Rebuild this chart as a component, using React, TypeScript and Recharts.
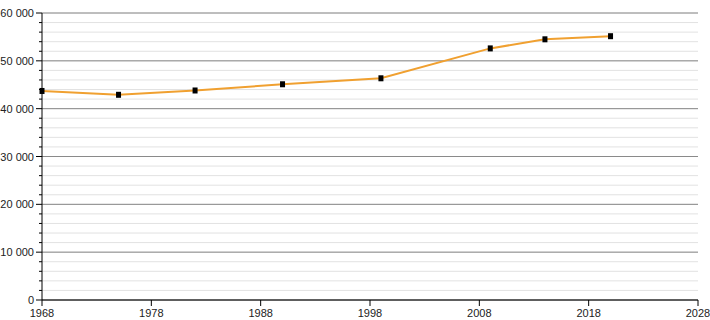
import React from 'react';
import { LineChart, Line, XAxis, YAxis, CartesianGrid, ReferenceLine } from 'recharts';

const years = [1968, 1975, 1982, 1990, 1999, 2009, 2014, 2020];
const population = [43700, 42900, 43800, 45100, 46350, 52600, 54500, 55150];
const xTicks = [1968, 1978, 1988, 1998, 2008, 2018, 2028];
const yTicks = [0, 2000, 4000, 6000, 8000, 10000, 12000, 14000, 16000, 18000, 20000, 22000, 24000, 26000, 28000, 30000, 32000, 34000, 36000, 38000, 40000, 42000, 44000, 46000, 48000, 50000, 52000, 54000, 56000, 58000, 60000];
const majorTicks = [0, 10000, 20000, 30000, 40000, 50000, 60000];

const data = years.map((y, i) => ({ year: y, pop: population[i] }));

const fmt = (v: number) => String(v).replace(/\B(?=(\d{3})+(?!\d))/g, ' ');

const FONT = '"Liberation Sans", Arial, sans-serif';

const YTick = (props: any) => {
  const { x, y, payload } = props;
  const major = payload.value % 10000 === 0;
  const axisX = x + 8;
  return (
    <g>
      <line x1={axisX - (major ? 6 : 3)} x2={axisX} y1={y} y2={y} stroke="#000" strokeWidth={1} />
      {major && (
        <text x={x} y={y} dy={4} textAnchor="end" fontSize={11} fill="#222" fontFamily={FONT}>
          {fmt(payload.value)}
        </text>
      )}
    </g>
  );
};

const XTick = (props: any) => {
  const { x, y, payload } = props;
  return (
    <text x={x} y={y} dy={9} textAnchor="middle" fontSize={11} fill="#222" fontFamily={FONT}>
      {payload.value}
    </text>
  );
};

const Dot = (props: any) => {
  const { cx, cy } = props;
  if (cx == null || cy == null) return null;
  return <rect x={cx - 2.5} y={cy - 3} width={5} height={6} fill="#000" />;
};

export default function App() {
  return (
    <div style={{ position: 'absolute', left: 0, top: 0, width: 710, height: 320, background: '#fff' }}>
      <LineChart width={710} height={320} data={data} margin={{ top: 13, right: 12, bottom: 0, left: 0 }}>
        <CartesianGrid vertical={false} stroke="#e2e2e2" strokeWidth={1} />
        {majorTicks.map((v) => (
          <ReferenceLine key={v} y={v} stroke="#8a8a8a" strokeWidth={1} ifOverflow="extendDomain" />
        ))}
        <XAxis
          dataKey="year"
          type="number"
          domain={[1968, 2028]}
          ticks={xTicks}
          interval={0}
          height={20}
          tick={<XTick />}
          tickSize={6}
          tickMargin={2}
          axisLine={{ stroke: '#000' }}
          tickLine={{ stroke: '#000' }}
        />
        <YAxis
          type="number"
          domain={[0, 60000]}
          ticks={yTicks}
          interval={0}
          width={42}
          tick={<YTick />}
          tickLine={false}
          tickSize={6}
          tickMargin={2}
          axisLine={{ stroke: '#000' }}
        />
        <Line
          type="linear"
          dataKey="pop"
          stroke="#f0a030"
          strokeWidth={2}
          dot={<Dot />}
          activeDot={false}
          isAnimationActive={false}
        />
      </LineChart>
    </div>
  );
}
